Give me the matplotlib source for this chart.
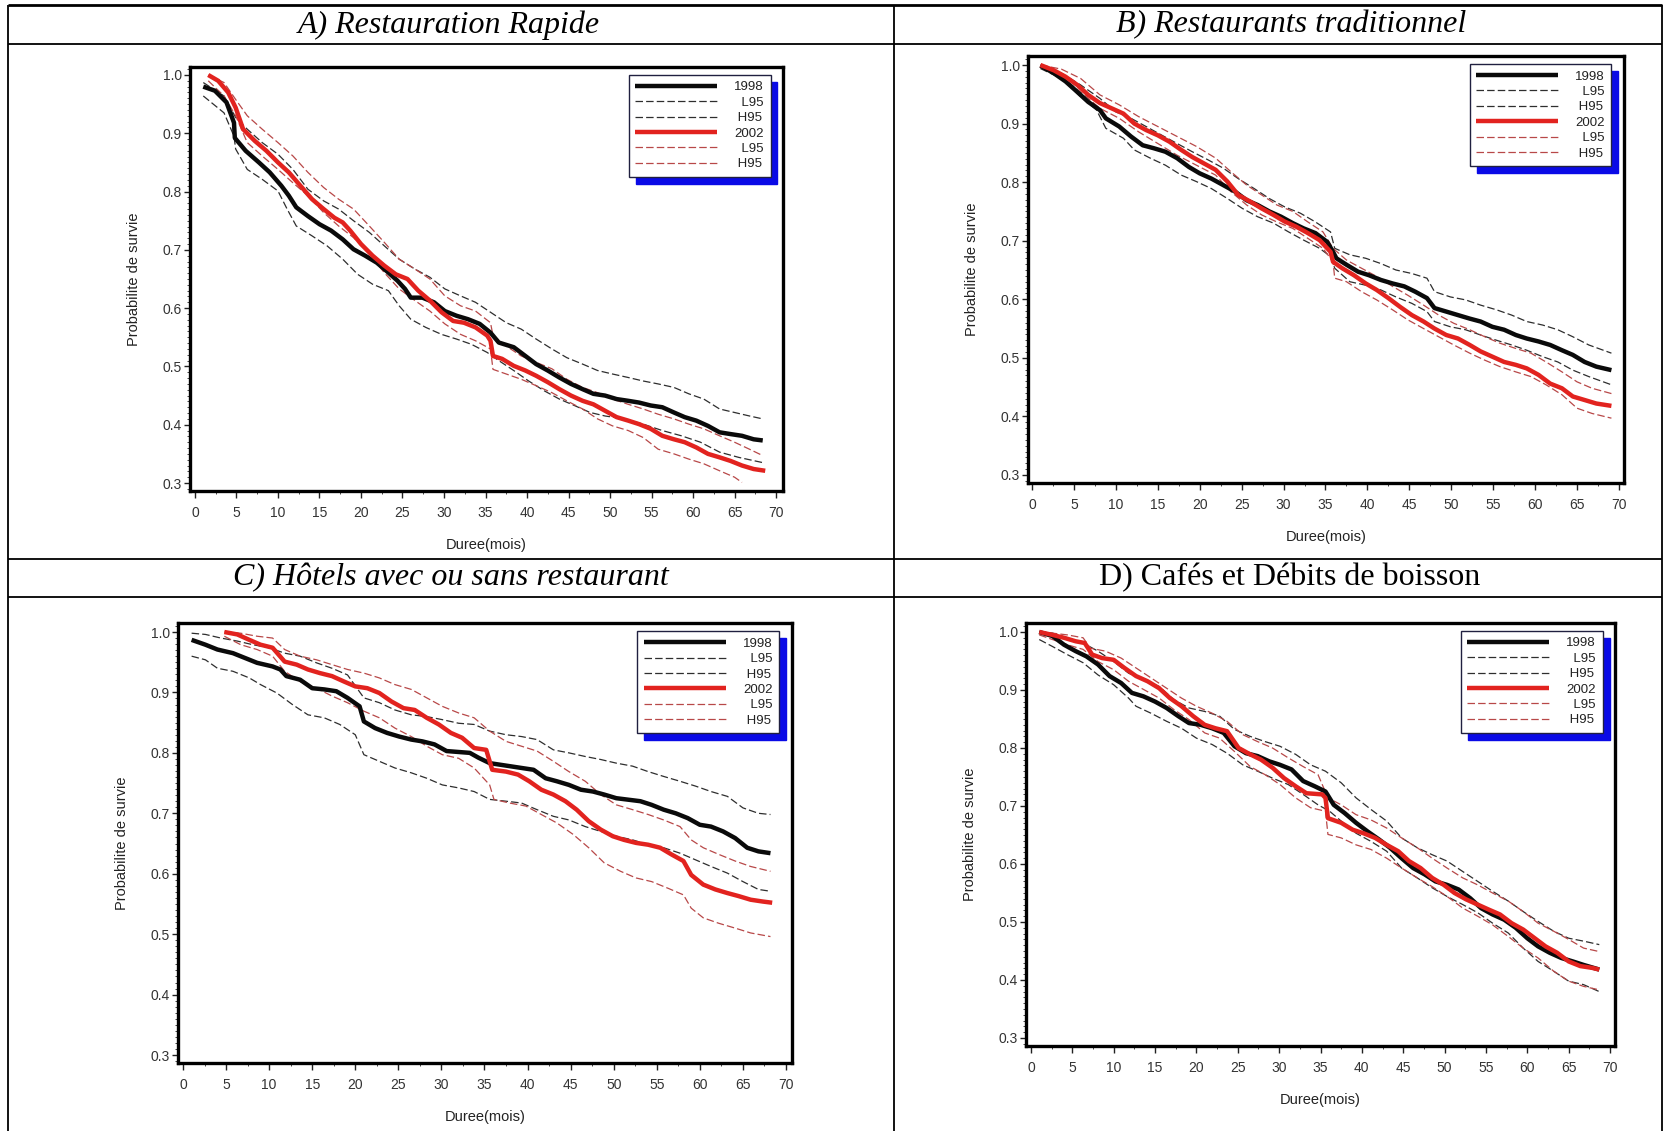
import numpy as np
import matplotlib.pyplot as plt
from matplotlib.ticker import MultipleLocator, FormatStrFormatter

plt.rcParams['font.family'] = ['Liberation Sans', 'DejaVu Sans']

# Kaplan-Meier survival curves, (month, survival)
A_1998 = [(1.0, .980), (2.4, .973), (3.8, .953), (4.7, .918), (4.8, .892), (6.1, .870), (7.7, .850),
          (9.0, .833), (10.4, .810), (11.3, .793), (12.2, .773), (13.6, .758), (15.0, .744), (16.4, .733),
          (17.8, .718), (19.1, .701), (20.5, .690), (21.9, .678), (23.3, .661), (24.4, .647), (25.3, .633),
          (26.0, .618), (27.4, .618), (28.8, .610), (30.1, .595), (31.5, .587), (32.9, .581), (34.3, .573),
          (35.6, .558), (36.6, .541), (38.4, .533), (39.8, .518), (41.1, .504), (42.5, .493), (43.9, .481),
          (45.3, .470), (46.7, .461), (48.0, .453), (49.4, .450), (50.8, .444), (52.2, .441), (53.5, .438),
          (54.9, .433), (56.3, .430), (57.7, .421), (59.0, .413), (60.4, .407), (61.8, .398), (63.2, .387),
          (64.5, .384), (65.9, .381), (67.3, .375), (68.4, .373)]
A_1998_lo = [(1.0, .964), (3.5, .935), (4.7, .895), (4.9, .873), (6.3, .838), (8.1, .821), (10.0, .801),
             (11.1, .770), (12.2, .741), (14.1, .724), (15.9, .707), (17.8, .684), (19.6, .658), (21.4, .641),
             (23.3, .630), (24.6, .604), (26.0, .581), (27.8, .567), (29.7, .555), (31.5, .547), (33.3, .538),
             (35.2, .524), (36.6, .510), (38.4, .493), (40.2, .475), (42.1, .458), (43.9, .444), (45.7, .433),
             (47.6, .421), (49.4, .415), (51.7, .410), (54.0, .401), (56.3, .390), (58.6, .381), (60.9, .370),
             (63.2, .353), (65.5, .344), (68.4, .335)]
A_1998_hi = [(1.0, .987), (3.5, .964), (4.9, .927), (6.3, .907), (8.1, .884), (10.0, .864), (11.8, .838),
             (13.6, .804), (15.5, .784), (17.3, .770), (19.1, .750), (21.0, .730), (22.8, .707), (24.6, .684),
             (26.5, .667), (28.3, .653), (30.1, .633), (32.0, .621), (33.8, .610), (35.6, .593), (37.5, .575),
             (39.3, .564), (41.1, .547), (43.0, .530), (44.8, .515), (46.7, .504), (48.5, .493), (50.3, .487),
             (52.2, .481), (54.0, .475), (55.8, .470), (57.7, .464), (59.5, .453), (61.3, .444), (63.2, .427),
             (65.0, .421), (66.8, .415), (68.4, .410)]
A_2002 = [(1.6, 1.0), (2.8, .990), (4.0, .970), (4.9, .944), (5.8, .907), (7.2, .887), (8.6, .870),
          (10.0, .850), (11.3, .833), (12.7, .810), (14.1, .787), (15.5, .770), (16.8, .755), (17.8, .747),
          (18.7, .733), (20.0, .710), (21.4, .690), (22.8, .673), (24.2, .658), (25.6, .650), (26.9, .630),
          (28.3, .613), (29.7, .593), (31.1, .578), (32.4, .575), (33.8, .567), (35.2, .553), (35.6, .544),
          (35.9, .518), (37.0, .513), (38.4, .501), (39.8, .493), (41.1, .484), (42.5, .473), (43.9, .461),
          (45.3, .450), (46.7, .441), (48.0, .435), (49.4, .424), (50.8, .413), (52.2, .407), (53.5, .401),
          (54.9, .393), (56.3, .381), (57.7, .375), (59.0, .370), (60.4, .361), (61.8, .350), (63.2, .344),
          (64.5, .338), (65.9, .330), (67.3, .324), (68.7, .321)]
A_2002_lo = [(1.6, .990), (3.5, .964), (4.9, .930), (6.3, .884), (8.1, .861), (10.0, .838), (11.8, .815),
             (13.6, .793), (15.5, .764), (17.3, .741), (19.1, .721), (21.0, .693), (22.8, .661), (24.6, .633),
             (26.5, .613), (28.3, .595), (30.1, .573), (32.0, .555), (33.8, .544), (35.6, .530), (35.9, .495),
             (37.5, .487), (39.3, .478), (41.1, .467), (43.0, .455), (44.8, .441), (46.7, .427), (48.5, .410),
             (50.3, .398), (52.2, .390), (54.0, .378), (55.8, .358), (57.7, .350), (59.5, .341), (61.3, .333),
             (63.2, .321), (65.0, .310), (65.9, .301)]
A_2002_hi = [(1.6, 1.0), (3.5, .987), (4.9, .958), (6.3, .930), (8.1, .907), (10.0, .884), (11.8, .861),
             (13.6, .833), (15.5, .807), (17.3, .787), (19.1, .770), (21.0, .741), (22.8, .713), (24.6, .684),
             (26.5, .667), (28.3, .650), (30.1, .621), (32.0, .604), (33.8, .595), (35.6, .575), (35.9, .553),
             (37.5, .535), (39.3, .518), (41.1, .507), (43.0, .496), (44.8, .478), (46.7, .464), (48.5, .455),
             (50.3, .444), (52.2, .435), (54.0, .427), (55.8, .418), (57.7, .410), (59.5, .401), (61.3, .393),
             (63.2, .381), (65.0, .370), (66.8, .358), (68.4, .347)]

B_1998 = [(1.0, .999), (2.6, .986), (4.0, .972), (5.4, .954), (6.7, .937), (8.1, .923), (8.8, .909),
          (10.4, .895), (11.8, .878), (13.2, .863), (14.5, .858), (15.9, .852), (17.3, .841), (18.7, .826),
          (20.0, .815), (21.4, .806), (22.8, .795), (24.2, .784), (25.6, .769), (26.9, .761), (28.3, .750),
          (29.7, .741), (31.1, .730), (32.4, .721), (33.8, .713), (35.2, .698), (35.9, .681), (36.3, .670),
          (37.5, .659), (38.9, .647), (40.2, .641), (41.6, .633), (43.0, .627), (44.4, .622), (45.7, .613),
          (47.1, .602), (48.0, .585), (49.4, .579), (50.8, .573), (52.2, .567), (53.5, .562), (54.9, .553),
          (56.3, .548), (57.7, .539), (59.0, .533), (60.4, .528), (61.8, .522), (63.2, .513), (64.5, .505),
          (65.9, .493), (67.3, .485), (69.1, .479)]
B_1998_lo = [(1.0, .994), (3.5, .977), (5.8, .946), (7.7, .923), (8.8, .892), (10.9, .875), (12.2, .855),
             (14.1, .841), (15.9, .829), (17.8, .812), (19.6, .801), (21.4, .789), (23.3, .772), (25.1, .755),
             (26.9, .741), (28.8, .730), (30.6, .715), (32.4, .701), (34.3, .687), (35.6, .673), (36.1, .653),
             (37.9, .630), (39.8, .624), (41.6, .616), (43.4, .604), (45.3, .593), (47.1, .579), (48.0, .562),
             (49.9, .553), (51.7, .548), (53.5, .539), (55.4, .530), (57.2, .522), (59.0, .513), (60.9, .502),
             (62.7, .493), (64.5, .479), (66.4, .468), (69.1, .454)]
B_1998_hi = [(1.0, 1.0), (3.5, .986), (5.8, .966), (8.1, .943), (10.0, .920), (11.8, .909), (13.6, .895),
             (15.5, .880), (17.3, .866), (19.1, .852), (21.0, .838), (22.8, .824), (24.6, .806), (26.5, .789),
             (28.3, .772), (30.1, .758), (32.0, .747), (33.8, .732), (35.6, .715), (36.1, .687), (37.9, .676),
             (39.8, .670), (41.6, .661), (43.4, .650), (45.3, .644), (47.1, .636), (48.0, .613), (49.9, .604),
             (51.7, .599), (53.5, .590), (55.4, .582), (57.2, .573), (59.0, .562), (60.9, .556), (62.7, .548),
             (64.5, .536), (66.4, .522), (69.1, .508)]
B_2002 = [(1.0, 1.0), (2.6, .991), (4.0, .980), (5.4, .966), (6.7, .949), (8.1, .935), (9.5, .926),
          (10.9, .917), (12.2, .900), (13.6, .889), (15.0, .880), (16.4, .869), (17.8, .855), (19.1, .843),
          (20.5, .832), (21.9, .821), (23.3, .801), (24.6, .778), (26.0, .767), (27.4, .755), (28.8, .744),
          (30.1, .733), (31.5, .724), (32.9, .713), (34.3, .701), (35.6, .681), (35.9, .664), (37.0, .653),
          (38.4, .641), (39.8, .627), (41.1, .616), (42.5, .602), (43.9, .587), (45.3, .573), (46.7, .562),
          (48.0, .550), (49.4, .539), (50.8, .533), (52.2, .522), (53.5, .511), (54.9, .502), (56.3, .493),
          (57.7, .488), (59.0, .482), (60.4, .471), (61.8, .456), (63.2, .448), (64.5, .434), (65.9, .428),
          (67.3, .422), (69.1, .418)]
B_2002_lo = [(1.0, .997), (3.5, .980), (5.8, .954), (8.1, .926), (10.4, .909), (12.7, .886), (15.0, .866),
             (17.3, .846), (19.6, .829), (21.9, .812), (23.7, .784), (25.6, .761), (27.4, .744), (29.2, .732),
             (31.1, .721), (32.9, .704), (34.7, .687), (35.9, .664), (36.1, .636), (37.5, .630), (39.3, .613),
             (41.1, .599), (43.0, .582), (44.8, .565), (46.7, .550), (48.5, .536), (50.3, .522), (52.2, .508),
             (54.0, .496), (55.8, .485), (57.7, .476), (59.5, .468), (61.3, .454), (63.2, .437), (65.0, .414),
             (66.8, .405), (69.1, .397)]
B_2002_hi = [(1.0, 1.0), (3.5, .993), (5.8, .977), (8.1, .949), (10.4, .932), (12.7, .912), (15.0, .895),
             (17.3, .878), (19.6, .861), (21.9, .841), (23.7, .818), (25.6, .795), (27.4, .778), (29.2, .761),
             (31.1, .750), (32.9, .732), (34.7, .715), (35.9, .687), (37.5, .667), (39.3, .653), (41.1, .639),
             (43.0, .622), (44.8, .607), (46.7, .590), (48.5, .573), (50.3, .559), (52.2, .548), (54.0, .536),
             (55.8, .525), (57.7, .516), (59.5, .508), (61.3, .493), (63.2, .476), (65.0, .459), (66.8, .448),
             (69.1, .439)]

C_1998 = [(1.0, .987), (2.6, .979), (4.0, .971), (5.8, .965), (7.2, .957), (8.6, .949), (10.4, .943),
          (11.3, .938), (12.0, .927), (13.6, .921), (15.0, .907), (16.4, .905), (17.8, .902), (19.1, .891),
          (20.5, .877), (21.0, .852), (22.3, .841), (23.7, .833), (25.1, .827), (26.5, .822), (27.8, .819),
          (29.2, .814), (30.6, .803), (33.3, .800), (34.3, .792), (35.6, .783), (37.0, .780), (40.7, .772),
          (42.1, .758), (43.4, .753), (44.8, .747), (46.2, .739), (47.6, .736), (48.9, .731), (50.3, .725),
          (53.1, .720), (54.4, .714), (55.8, .706), (57.2, .700), (58.6, .692), (60.0, .681), (61.3, .678),
          (62.7, .670), (64.1, .659), (65.5, .643), (66.8, .637), (68.2, .634)]
C_1998_lo = [(1.0, .960), (2.6, .954), (4.0, .940), (5.8, .935), (7.7, .924), (9.0, .913), (10.9, .899),
             (12.7, .880), (14.5, .863), (16.4, .858), (18.2, .847), (20.0, .830), (21.0, .797), (22.8, .786),
             (24.6, .775), (26.5, .767), (28.3, .758), (30.1, .747), (32.0, .742), (33.8, .736), (35.6, .723),
             (37.5, .720), (39.3, .717), (41.1, .706), (43.0, .695), (44.8, .689), (46.7, .678), (48.5, .670),
             (50.3, .662), (52.2, .656), (54.0, .648), (55.8, .643), (57.7, .634), (59.5, .623), (61.3, .612),
             (63.2, .601), (65.0, .587), (66.8, .574), (68.2, .571)]
C_1998_hi = [(1.0, .998), (2.6, .996), (4.4, .990), (6.3, .985), (8.1, .979), (10.0, .974), (11.8, .965),
             (13.6, .960), (15.5, .949), (17.3, .940), (19.1, .929), (21.0, .891), (22.8, .883), (24.6, .871),
             (26.5, .863), (28.3, .860), (30.1, .855), (32.0, .849), (33.8, .847), (35.6, .836), (37.5, .830),
             (39.3, .827), (41.1, .822), (43.0, .805), (44.8, .800), (46.7, .794), (48.5, .789), (50.3, .783),
             (52.2, .778), (54.0, .769), (55.8, .761), (57.7, .753), (59.5, .745), (61.3, .736), (63.2, .728),
             (65.0, .709), (66.8, .700), (68.2, .698)]
C_2002 = [(4.8, 1.0), (6.3, .996), (7.7, .987), (9.0, .979), (10.4, .974), (11.8, .951), (13.2, .946),
          (14.5, .938), (15.9, .932), (17.3, .927), (18.7, .918), (20.0, .910), (21.4, .907), (22.8, .899),
          (24.2, .885), (25.6, .874), (26.9, .871), (28.3, .858), (29.7, .847), (31.1, .833), (32.4, .825),
          (33.8, .808), (35.2, .805), (35.9, .772), (37.5, .769), (38.9, .764), (40.2, .753), (41.6, .739),
          (43.0, .731), (44.4, .720), (45.7, .706), (47.1, .687), (48.5, .673), (49.9, .662), (51.2, .656),
          (52.6, .651), (54.0, .648), (55.4, .643), (56.7, .632), (58.1, .621), (59.0, .598), (60.4, .582),
          (61.8, .574), (63.2, .568), (64.5, .563), (65.9, .557), (67.3, .554), (68.4, .552)]
C_2002_lo = [(4.8, .993), (6.7, .979), (8.6, .971), (10.4, .960), (11.8, .935), (13.6, .918), (15.5, .907),
             (17.3, .894), (19.1, .883), (21.0, .869), (22.8, .858), (24.6, .841), (26.5, .827), (28.3, .811),
             (30.1, .797), (32.0, .791), (33.8, .775), (35.6, .747), (36.1, .723), (37.9, .717), (39.8, .712),
             (41.6, .698), (43.4, .684), (45.3, .665), (47.1, .643), (48.9, .618), (50.8, .604), (52.6, .593),
             (54.4, .587), (56.3, .576), (58.1, .565), (59.0, .543), (60.4, .527), (62.2, .518), (64.1, .510),
             (65.9, .502), (68.2, .496)]
C_2002_hi = [(4.8, 1.0), (6.7, .998), (8.6, .993), (10.4, .990), (11.8, .971), (13.6, .960), (15.5, .954),
             (17.3, .946), (19.1, .938), (21.0, .932), (22.8, .924), (24.6, .913), (26.5, .905), (28.3, .891),
             (30.1, .877), (32.0, .866), (33.8, .858), (35.6, .836), (37.5, .819), (39.3, .811), (41.1, .803),
             (43.0, .786), (44.8, .769), (46.7, .753), (48.5, .731), (50.3, .714), (52.2, .706), (54.0, .698),
             (55.8, .689), (57.7, .678), (59.0, .656), (60.4, .643), (62.2, .632), (64.1, .621), (65.9, .612),
             (68.2, .604)]

D_1998 = [(1.0, 1.0), (2.6, .993), (4.0, .978), (5.4, .967), (6.7, .958), (8.1, .944), (9.5, .924),
          (10.9, .912), (12.2, .895), (13.6, .889), (15.0, .880), (16.4, .869), (17.8, .855), (19.1, .843),
          (20.5, .840), (21.9, .834), (23.3, .826), (24.6, .803), (26.0, .791), (27.4, .786), (28.8, .777),
          (30.1, .771), (31.5, .763), (32.9, .743), (34.3, .734), (35.6, .725), (36.6, .702), (37.9, .688),
          (39.3, .671), (40.7, .656), (42.1, .642), (43.4, .628), (44.8, .610), (46.2, .593), (47.6, .582),
          (48.9, .570), (50.3, .564), (51.7, .556), (53.1, .541), (54.4, .524), (55.8, .513), (57.2, .504),
          (58.6, .490), (60.0, .472), (61.3, .458), (62.7, .447), (64.1, .438), (65.5, .432), (66.8, .426),
          (68.7, .418)]
D_1998_lo = [(1.0, .987), (2.6, .975), (4.4, .961), (6.3, .947), (8.1, .926), (10.0, .909), (11.8, .886),
             (12.7, .872), (14.5, .860), (16.4, .846), (18.2, .834), (20.0, .817), (21.9, .806), (23.7, .791),
             (25.6, .771), (27.4, .760), (29.2, .748), (31.1, .737), (32.9, .720), (34.7, .702), (36.1, .691),
             (37.5, .674), (39.3, .653), (41.1, .639), (43.0, .622), (44.8, .593), (46.7, .576), (48.5, .559),
             (50.3, .544), (52.2, .530), (54.0, .516), (55.8, .498), (57.7, .481), (59.5, .455), (61.3, .432),
             (63.2, .415), (65.0, .398), (66.8, .392), (68.7, .380)]
D_1998_hi = [(1.0, 1.0), (2.6, .998), (4.4, .990), (6.3, .981), (8.1, .967), (10.0, .949), (11.8, .929),
             (13.6, .918), (15.5, .906), (17.3, .883), (19.1, .869), (21.0, .863), (22.8, .855), (24.6, .832),
             (26.5, .820), (28.3, .811), (30.1, .803), (32.0, .789), (33.8, .771), (35.6, .760), (37.5, .740),
             (39.3, .714), (41.1, .694), (43.0, .674), (44.8, .645), (46.7, .628), (48.5, .616), (50.3, .605),
             (52.2, .587), (54.0, .570), (55.8, .553), (57.7, .536), (59.5, .518), (61.3, .501), (63.2, .484),
             (65.0, .472), (66.8, .467), (68.7, .461)]
D_2002 = [(1.0, 1.0), (2.6, .995), (4.0, .990), (5.4, .984), (6.5, .981), (7.4, .961), (8.6, .955),
          (10.0, .952), (11.3, .938), (12.7, .924), (14.1, .915), (15.5, .903), (16.8, .886), (18.2, .872),
          (19.6, .855), (21.0, .840), (22.3, .834), (23.7, .829), (25.1, .800), (26.5, .789), (27.8, .780),
          (29.2, .766), (30.6, .748), (32.0, .734), (33.3, .722), (35.2, .720), (35.6, .714), (35.9, .679),
          (37.5, .671), (38.9, .659), (40.2, .653), (41.6, .645), (43.0, .633), (44.4, .622), (45.7, .605),
          (47.1, .593), (48.5, .576), (49.9, .564), (51.2, .550), (52.6, .539), (54.0, .530), (55.4, .521),
          (56.7, .513), (58.1, .498), (59.5, .487), (60.9, .472), (62.2, .458), (63.6, .447), (65.0, .432),
          (66.4, .424), (67.8, .421), (68.7, .418)]
D_2002_lo = [(1.0, .995), (2.6, .987), (4.4, .978), (6.3, .970), (8.1, .949), (10.0, .935), (11.8, .915),
             (13.6, .901), (15.5, .886), (17.3, .866), (19.1, .849), (21.0, .826), (22.8, .817), (24.6, .794),
             (26.5, .768), (28.3, .754), (30.1, .737), (32.0, .714), (33.8, .697), (35.6, .691), (35.9, .651),
             (37.5, .645), (39.3, .633), (41.1, .625), (43.0, .610), (44.8, .593), (46.7, .576), (48.5, .561),
             (50.3, .544), (52.2, .524), (54.0, .510), (55.8, .495), (57.7, .475), (59.5, .455), (61.3, .438),
             (63.2, .415), (65.0, .398), (66.8, .389), (68.7, .383)]
D_2002_hi = [(1.0, 1.0), (2.6, .998), (4.4, .995), (6.3, .990), (7.2, .972), (9.0, .967), (10.9, .955),
             (12.7, .938), (14.5, .921), (16.4, .903), (18.2, .886), (20.0, .872), (21.9, .860), (23.7, .846),
             (25.6, .823), (27.4, .811), (29.2, .800), (31.1, .783), (32.9, .768), (34.7, .754), (35.9, .714),
             (37.5, .702), (39.3, .685), (41.1, .676), (43.0, .662), (44.8, .645), (46.7, .628), (48.5, .610),
             (50.3, .593), (52.2, .576), (54.0, .564), (55.8, .550), (57.7, .536), (59.5, .518), (61.3, .498),
             (63.2, .484), (65.0, .470), (66.8, .455), (68.7, .449)]

titles = ['A) Restauration Rapide', 'B) Restaurants traditionnel',
          'C) Hôtels avec ou sans restaurant', 'D) Cafés et Débits de boisson']
title_italic = [True, True, True, False]
# figure / punctuation spaces keep the legend labels flush right
legend_labels = ['1998', '\u2007L95', '\u2008H95', '2002', '\u2007L95', '\u2008H95']
x_label = 'Duree(mois)'
y_label = 'Probabilite de survie'
y_ticks = [0.3, 0.4, 0.5, 0.6, 0.7, 0.8, 0.9, 1.0]
x_ticks = list(range(0, 75, 5))

panel_data = [
    (A_1998, A_1998_lo, A_1998_hi, A_2002, A_2002_lo, A_2002_hi),
    (B_1998, B_1998_lo, B_1998_hi, B_2002, B_2002_lo, B_2002_hi),
    (C_1998, C_1998_lo, C_1998_hi, C_2002, C_2002_lo, C_2002_hi),
    (D_1998, D_1998_lo, D_1998_hi, D_2002, D_2002_lo, D_2002_hi),
]

# page layout in pixels (left, top, right, bottom) of each plot frame
W, H = 1665, 1131
frames = [(190, 67, 783, 491), (1028, 56, 1624, 483), (178, 623, 792, 1063), (1026, 623, 1615, 1046)]
xlims = [(-0.6, 70.84), (-0.48, 70.6), (-0.58, 70.7), (-0.6, 70.6)]
ylims = [(0.2863, 1.0137), (0.2863, 1.0154), (0.2868, 1.0149), (0.2862, 1.0155)]
title_pos = [(449, 25), (1291, 25), (451, 578), (1290, 578)]

fig = plt.figure(figsize=(W / 100, H / 100), dpi=100)
fig.patch.set_facecolor('white')

# table grid of the scanned page
bg = fig.add_axes([0, 0, 1, 1])
bg.set_xlim(0, W)
bg.set_ylim(H, 0)
bg.axis('off')
bg.hlines(5, 8, 1662, color='black', lw=2.0)
for yy in (44, 559, 597):
    bg.hlines(yy, 8, 1662, color='black', lw=1.3)
for xx in (8.5, 894, 1662):
    bg.vlines(xx, 5, H, color='black', lw=1.3)
for (tx, ty), t, it in zip(title_pos, titles, title_italic):
    bg.text(tx, ty, t, ha='center', va='center', fontsize=23,
            family=['Liberation Serif', 'DejaVu Serif'], style='italic' if it else 'normal')

black, red = '#0a0a0a', '#e2231f'
ci_black, ci_red = '#2e2e2e', '#b84848'
dash = (0, (6, 2.5))

for i, series in enumerate(panel_data):
    l, t, r, b = frames[i]
    ax = fig.add_axes([l / W, 1 - b / H, (r - l) / W, (b - t) / H])
    styles = [(black, 3.2, '-'), (ci_black, 0.9, dash), (ci_black, 0.9, dash),
              (red, 3.2, '-'), (ci_red, 0.9, dash), (ci_red, 0.9, dash)]
    handles = []
    for pts, (c, lw, ls) in zip(series, styles):
        tt, ss = zip(*pts)
        z = 3 if lw > 2 else 2
        h, = ax.plot(tt, ss, color=c, lw=lw, ls=ls, zorder=z, solid_capstyle='butt')
        handles.append(h)
    ax.set_xlim(*xlims[i])
    ax.set_ylim(*ylims[i])
    ax.set_xticks(x_ticks)
    ax.set_yticks(y_ticks)
    ax.xaxis.set_minor_locator(MultipleLocator(2.5))
    ax.yaxis.set_minor_locator(MultipleLocator(0.01))
    ax.yaxis.set_major_formatter(FormatStrFormatter('%.1f'))
    for sp in ax.spines.values():
        sp.set_linewidth(2.4)
        sp.set_color('black')
    ax.tick_params(which='major', direction='out', length=4, width=1, color='#222',
                   labelcolor='#333', labelsize=10)
    ax.tick_params(which='minor', direction='out', length=2, width=0.7, color='#444')
    ax.tick_params(axis='x', which='major', pad=6, length=5)
    ax.tick_params(axis='y', which='major', pad=2)
    wpx, hpx = r - l, b - t
    ax.set_xlabel(x_label, fontsize=10.5, color='#222')
    ax.xaxis.set_label_coords(0.5, -47 / hpx)
    ax.xaxis.label.set_va('top')
    ax.set_ylabel(y_label, fontsize=10.5, color='#222')
    ax.yaxis.set_label_coords(-56 / wpx, 0.5)
    ax.yaxis.label.set_va('center')
    leg = ax.legend(handles, legend_labels, loc='upper right', bbox_to_anchor=(0.979, 0.982),
                    borderaxespad=0, fontsize=9.5, handlelength=6.2, handletextpad=1.3,
                    labelspacing=0.24, borderpad=0.5, fancybox=False, framealpha=1,
                    edgecolor='#202040',
                    shadow={'color': '#0a0ae6', 'alpha': 1, 'ox': 5, 'oy': -5})
    leg.get_frame().set_linewidth(1.0)
    for txt in leg.get_texts():
        txt.set_color('#222')

fig.savefig('out.png', dpi=100)
